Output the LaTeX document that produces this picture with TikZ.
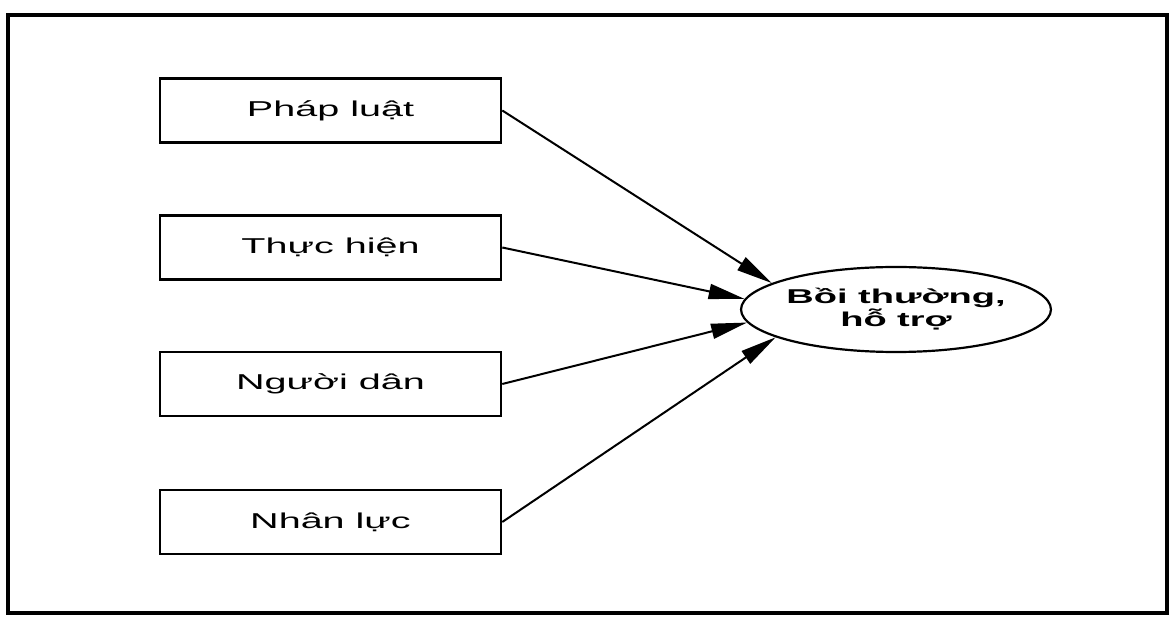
\documentclass[tikz,border=0pt]{standalone}
\usepackage{fontspec}
\usetikzlibrary{arrows.meta,shapes.geometric}
\newfontfamily\boxfont[FakeStretch=1.84]{Liberation Sans}
\newfontfamily\ellfont[FakeStretch=1.9]{Liberation Sans}
\begin{document}
\begin{tikzpicture}[x=1pt,y=-1pt,
  factor/.style={draw,line width=2.6pt,rectangle,minimum width=341pt,minimum height=64pt,
    inner sep=0pt,font=\boxfont\fontsize{21.5}{25}\selectfont},
  outcome/.style={draw,line width=2.2pt,ellipse,minimum width=302pt,minimum height=85pt,
    inner sep=0pt,align=center,font=\ellfont\bfseries\fontsize{20}{23}\selectfont},
  link/.style={line width=2pt,-{Triangle[length=36pt,width=15pt]}}]
\useasboundingbox (0,0) rectangle (1171,617);
\draw[line width=3.4pt] (8,15) rectangle (1167,613);

\node[factor] (law)    at (330.5,110.5) {Pháp luật};
\node[factor] (impl)   at (330.5,247.5) {Thực hiện};
\node[factor] (people) at (330.5,384)   {Người dân};
\node[factor] (staff)  at (330.5,522)   {Nhân lực};

\node[outcome] (comp) at (896,309.5) {Bồi thường,\\hỗ trợ};

\draw[link] (law.east)    -- (comp.168);
\draw[link] (impl.east)   -- (comp.176);
\draw[link] (people.east) -- (comp.185);
\draw[link] (staff.east)  -- (comp.193.5);
\end{tikzpicture}
\end{document}
